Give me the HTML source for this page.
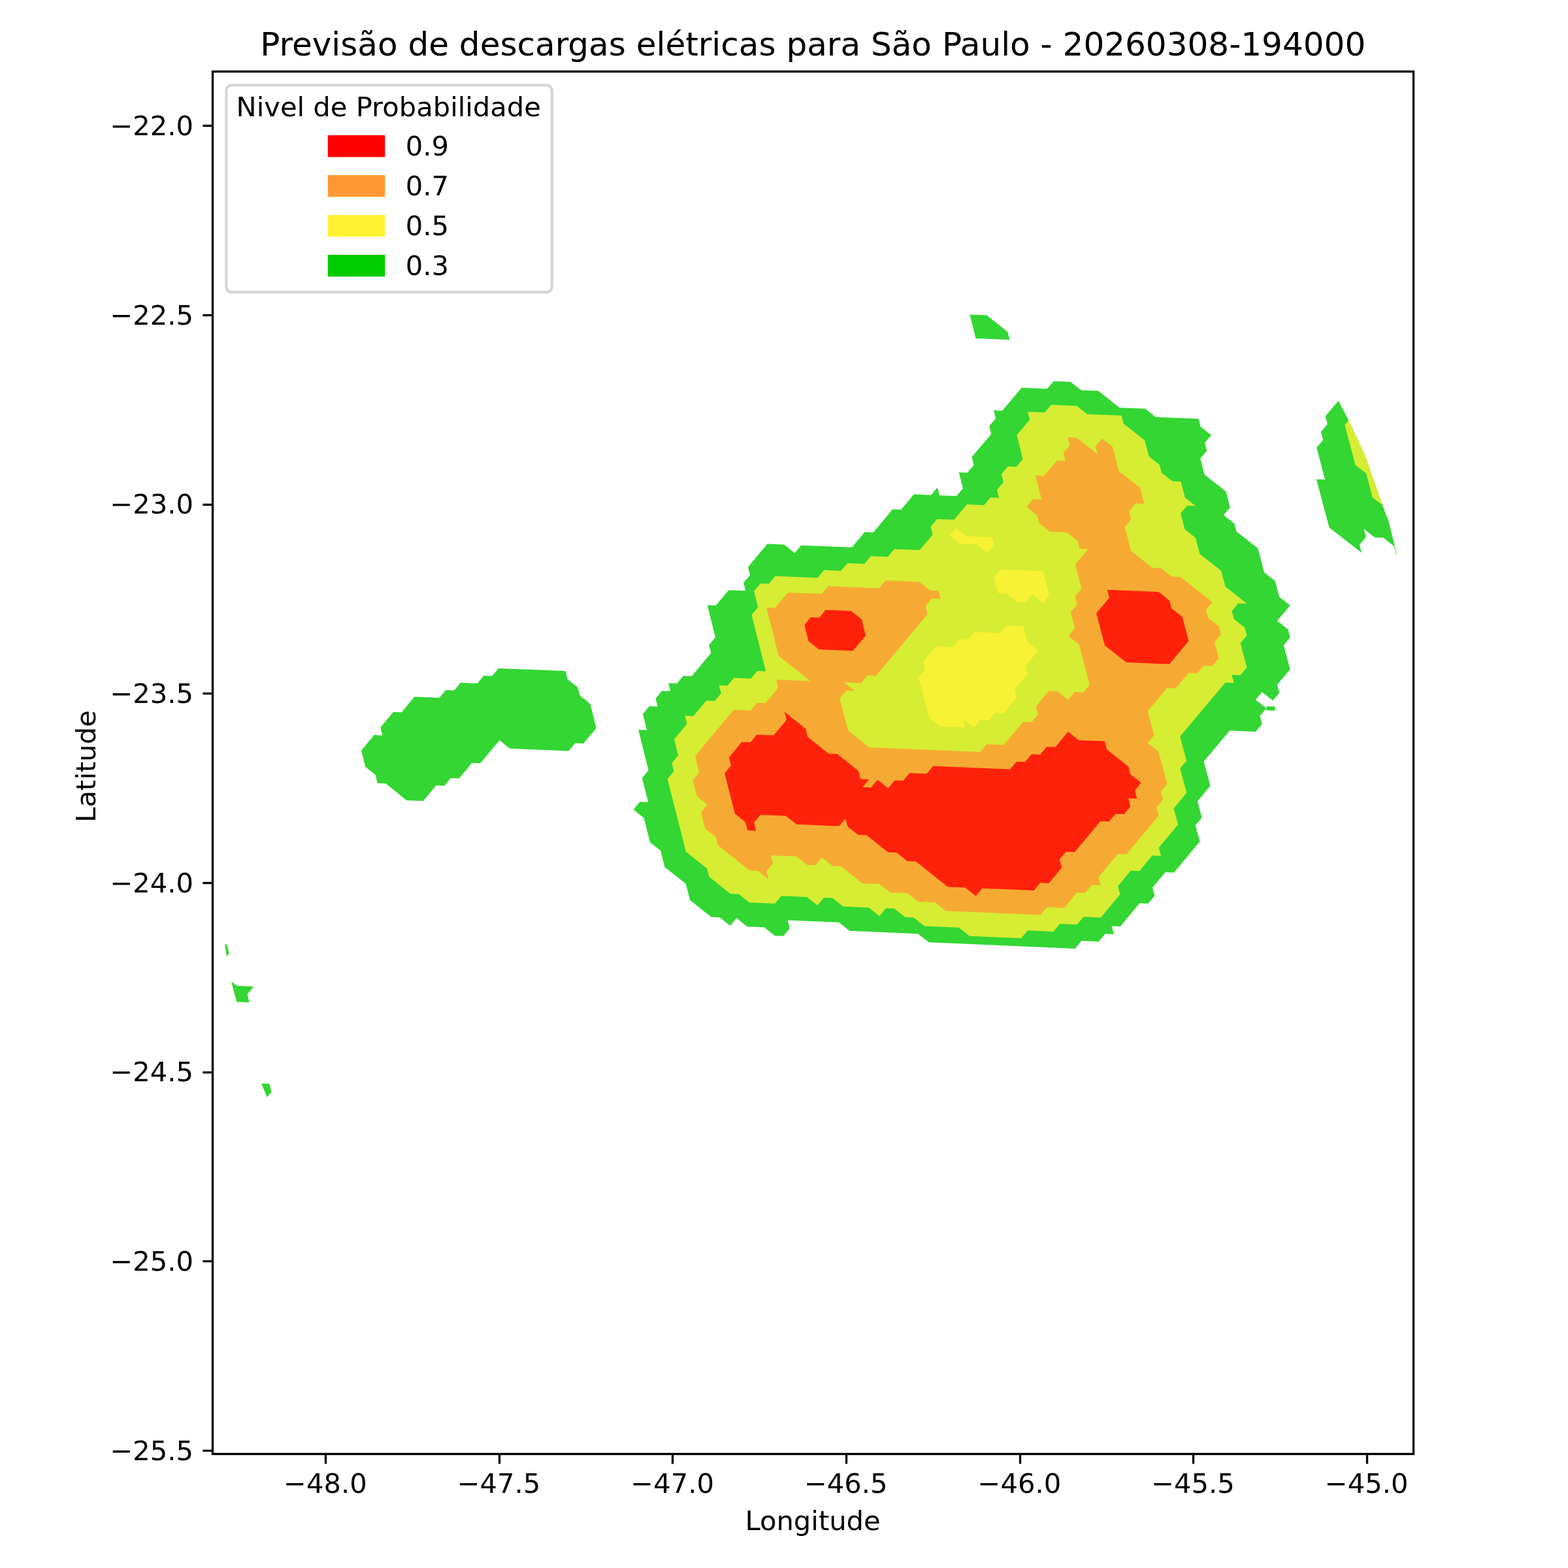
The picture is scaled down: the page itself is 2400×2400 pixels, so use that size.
<!DOCTYPE html>
<html lang="pt-BR"><head><meta charset="utf-8"><title>Previsão de descargas elétricas para São Paulo</title>
<style>html,body{margin:0;padding:0;background:#fff}body{width:2400px;height:2400px;overflow:hidden}svg{display:block}text{font-family:"DejaVu Sans","Liberation Sans",sans-serif;fill:#000}</style></head><body>
<svg width="2400" height="2400" viewBox="0 0 2400 2400">
<rect width="2400" height="2400" fill="#fff"/>
<defs><clipPath id="ax"><rect x="325.50" y="109.50" width="1838.00" height="2116.00"/></clipPath></defs>
<g clip-path="url(#ax)" fill-opacity="0.8" stroke="none">
<path d="M1144.9 867.9 L1148.0 880.2 L1138.1 891.9 L1141.2 904.2 L1115.4 903.2 L1095.7 926.7 L1082.8 926.2 L1095.0 975.4 L1085.2 987.2 L1088.3 999.5 L1058.8 1034.9 L1045.9 1034.4 L1036.1 1046.2 L1023.1 1045.7 L1026.2 1058.0 L1013.3 1057.5 L1003.5 1069.3 L1006.6 1081.6 L993.7 1081.1 L983.9 1092.9 L990.0 1117.6 L977.1 1117.1 L992.6 1178.9 L982.8 1190.7 L992.2 1227.8 L979.3 1227.3 L969.5 1239.1 L985.5 1252.0 L995.0 1289.2 L1011.1 1302.1 L1017.4 1326.9 L1049.7 1352.8 L1056.0 1377.6 L1088.4 1403.6 L1101.4 1404.1 L1117.7 1417.1 L1127.4 1405.2 L1143.7 1418.2 L1169.8 1419.3 L1186.0 1432.3 L1199.1 1432.8 L1208.9 1420.9 L1205.6 1408.5 L1284.0 1411.8 L1300.3 1424.8 L1405.1 1429.3 L1421.6 1442.3 L1645.5 1452.0 L1655.4 1440.1 L1681.8 1441.2 L1691.7 1429.3 L1704.9 1429.9 L1701.5 1417.5 L1714.7 1418.0 L1744.3 1382.4 L1757.5 1383.0 L1767.4 1371.1 L1764.0 1358.6 L1783.7 1334.9 L1797.0 1335.5 L1836.5 1288.1 L1829.7 1263.2 L1839.6 1251.4 L1832.9 1226.5 L1852.6 1202.8 L1842.6 1165.6 L1882.2 1118.3 L1921.9 1120.1 L1931.8 1108.2 L1928.5 1095.9 L1938.4 1084.0 L1921.8 1071.1 L1931.7 1059.3 L1948.3 1072.2 L1958.2 1060.4 L1954.9 1048.1 L1974.7 1024.5 L1964.8 987.4 L1974.7 975.6 L1971.4 963.2 L1954.8 950.3 L1974.7 926.7 L1958.2 913.8 L1951.6 889.2 L1935.1 876.3 L1925.3 839.3 L1892.5 813.6 L1889.2 801.3 L1872.8 788.4 L1882.8 776.7 L1876.3 752.1 L1843.6 726.4 L1837.2 701.8 L1847.2 690.1 L1844.0 677.8 L1854.0 666.1 L1837.7 653.3 L1834.5 641.0 L1768.9 638.3 L1752.7 625.5 L1713.5 623.9 L1681.1 598.3 L1655.0 597.2 L1638.8 584.5 L1612.8 583.4 L1602.8 595.1 L1563.8 593.5 L1534.0 628.7 L1521.0 628.1 L1524.1 640.4 L1514.2 652.1 L1517.2 664.4 L1487.5 699.5 L1490.6 711.8 L1480.7 723.5 L1467.7 723.0 L1473.9 747.6 L1464.0 759.3 L1438.0 758.2 L1434.9 746.0 L1425.0 757.7 L1399.0 756.6 L1379.2 780.1 L1366.3 779.6 L1336.6 814.9 L1323.6 814.3 L1303.9 837.8 L1226.2 834.7 L1216.3 846.4 L1200.3 833.6 L1174.5 832.6Z" fill="#00cc00"/>
<path d="M553.1 1148.8 L572.6 1125.1 L585.4 1125.7 L582.4 1113.3 L602.0 1089.7 L614.7 1090.2 L634.3 1066.6 L672.6 1068.1 L682.4 1056.3 L695.2 1056.8 L705.0 1045.0 L730.6 1046.0 L740.4 1034.2 L753.2 1034.8 L763.0 1023.0 L865.6 1027.1 L868.6 1039.4 L884.5 1052.3 L887.6 1064.6 L903.5 1077.4 L912.7 1114.4 L893.1 1138.1 L880.2 1137.6 L870.4 1149.4 L780.4 1145.7 L764.6 1132.9 L735.2 1168.3 L722.4 1167.8 L702.8 1191.5 L690.0 1191.0 L680.2 1202.8 L667.4 1202.3 L647.8 1226.0 L622.2 1224.9 L590.6 1199.2 L577.8 1198.7 L574.8 1186.3 L559.1 1173.5Z" fill="#00cc00"/>
<path d="M2048.7 613.5 L2028.7 637.0 L2031.9 649.2 L2021.9 661.0 L2025.2 673.2 L2015.2 685.0 L2028.1 734.1 L2014.9 733.6 L2034.5 807.4 L2084.1 846.0 L2080.8 833.7 L2090.8 822.0 L2087.5 809.6 L2104.0 822.5 L2117.3 823.1 L2133.9 836.0 L2137.2 848.3 L2138.4 849.2 L2134.8 835.8 L2125.0 796.0 L2120.7 785.9 L2116.3 773.2 L2097.4 720.0 L2088.2 694.2 L2064.3 643.6Z" fill="#00cc00"/>
<path d="M1484.4 481.4 L1510.3 482.4 L1542.3 507.9 L1545.4 520.1 L1493.5 518.0Z" fill="#00cc00"/>
<path d="M344.1 1444.6 L347.6 1446.8 L350.6 1459.2 L347.0 1463.7Z" fill="#00cc00"/>
<path d="M354.1 1502.2 L362.8 1508.8 L388.3 1509.9 L378.6 1521.8 L381.6 1534.2 L362.2 1533.6Z" fill="#00cc00"/>
<path d="M400.1 1658.6 L412.5 1658.7 L415.6 1671.2 L408.9 1679.4Z" fill="#00cc00"/>
<path d="M1938.3 1087.2 L1951.5 1087.7 L1951.8 1081.5 L1938.5 1080.9Z" fill="#00cc00"/>
<path d="M1323.0 863.0 L1297.1 861.9 L1287.2 873.7 L1261.3 872.6 L1251.4 884.4 L1186.7 881.7 L1176.9 893.5 L1164.0 893.0 L1154.1 904.8 L1160.3 929.4 L1150.4 941.1 L1172.1 1027.4 L1159.1 1026.9 L1149.3 1038.7 L1123.4 1037.6 L1113.6 1049.4 L1100.6 1048.9 L1103.8 1061.2 L1093.9 1073.0 L1081.0 1072.5 L1061.3 1096.1 L1048.4 1095.6 L1051.5 1107.9 L1031.9 1131.5 L1038.1 1156.3 L1028.3 1168.1 L1031.4 1180.5 L1021.6 1192.3 L1049.9 1303.7 L1082.2 1329.6 L1085.4 1342.0 L1117.8 1367.9 L1130.8 1368.5 L1147.0 1381.4 L1186.1 1383.1 L1195.9 1371.2 L1235.0 1372.9 L1251.3 1385.8 L1261.1 1374.0 L1274.2 1374.5 L1290.5 1387.5 L1329.8 1389.2 L1346.1 1402.2 L1355.9 1390.3 L1369.0 1390.8 L1385.4 1403.8 L1398.5 1404.4 L1415.0 1417.4 L1467.5 1419.7 L1484.0 1432.7 L1563.0 1436.1 L1572.8 1424.2 L1612.4 1425.9 L1622.2 1414.0 L1648.6 1415.2 L1658.5 1403.3 L1684.9 1404.4 L1714.4 1368.8 L1711.1 1356.4 L1730.8 1332.6 L1744.0 1333.2 L1763.7 1309.5 L1777.0 1310.0 L1773.6 1297.6 L1803.2 1262.1 L1796.5 1237.2 L1816.3 1213.5 L1806.2 1176.3 L1816.1 1164.5 L1806.2 1127.3 L1875.5 1044.7 L1888.7 1045.2 L1885.4 1032.9 L1898.6 1033.4 L1908.5 1021.6 L1898.6 984.5 L1908.5 972.8 L1905.2 960.4 L1888.7 947.5 L1885.5 935.2 L1895.4 923.4 L1908.6 923.9 L1875.7 898.1 L1869.1 873.5 L1836.3 847.7 L1829.9 823.1 L1813.5 810.3 L1807.1 785.7 L1817.0 773.9 L1830.1 774.5 L1813.8 761.6 L1807.4 737.0 L1794.3 736.5 L1778.0 723.7 L1774.8 711.4 L1758.5 698.6 L1752.2 674.0 L1719.7 648.4 L1716.6 636.1 L1664.3 634.0 L1648.1 621.2 L1609.0 619.6 L1599.1 631.3 L1573.0 630.3 L1576.1 642.5 L1556.3 666.0 L1565.6 702.7 L1555.7 714.5 L1542.7 713.9 L1532.8 725.7 L1535.9 738.0 L1526.0 749.7 L1529.1 762.0 L1516.1 761.4 L1506.1 773.2 L1480.1 772.1 L1460.3 795.6 L1434.3 794.5 L1424.4 806.3 L1427.5 818.6 L1407.7 842.1 L1368.8 840.5 L1358.9 852.3 L1332.9 851.2Z" fill="#fff233"/>
<path d="M1463.4 807.9 L1479.6 820.7 L1518.7 822.3 L1521.8 834.6 L1511.9 846.4 L1495.7 833.6 L1469.7 832.5 L1453.5 819.7Z" fill="#fff233"/>
<path d="M1531.3 871.5 L1596.6 874.3 L1606.2 911.2 L1596.3 923.0 L1580.0 910.1 L1570.1 921.9 L1557.0 921.3 L1540.8 908.5 L1527.7 907.9 L1521.4 883.3Z" fill="#fff233"/>
<path d="M1540.4 957.2 L1566.6 958.3 L1573.0 983.0 L1589.3 995.9 L1569.5 1019.5 L1572.8 1031.8 L1553.0 1055.4 L1556.2 1067.8 L1536.5 1091.4 L1523.4 1090.9 L1513.5 1102.7 L1500.4 1102.1 L1490.6 1113.9 L1474.3 1101.0 L1477.5 1113.4 L1438.3 1111.7 L1422.0 1098.8 L1406.0 1037.1 L1415.9 1025.3 L1412.7 1012.9 L1432.5 989.3 L1458.5 990.4 L1468.4 978.6 L1481.5 979.2 L1491.3 967.4 L1530.5 969.0Z" fill="#fff233"/>
<path d="M2064.3 643.6 L2058.3 650.3 L2074.5 711.8 L2091.0 724.6 L2100.8 761.5 L2116.3 773.2 L2097.4 720.0 L2088.2 694.2Z" fill="#fff233"/>
<path d="M1439.6 916.5 L1436.4 904.2 L1423.4 903.6 L1407.2 890.8 L1355.2 888.6 L1345.4 900.4 L1267.5 897.2 L1257.6 909.0 L1205.8 906.9 L1186.1 930.4 L1173.2 929.9 L1191.8 1003.8 L1240.0 1042.4 L1188.2 1040.2 L1191.3 1052.6 L1171.6 1076.2 L1158.7 1075.7 L1148.8 1087.5 L1122.9 1086.4 L1064.0 1157.3 L1070.2 1182.1 L1060.4 1193.9 L1066.7 1218.6 L1082.8 1231.5 L1073.0 1243.4 L1079.3 1268.2 L1095.5 1281.1 L1098.7 1293.5 L1147.2 1332.3 L1160.2 1332.9 L1176.4 1345.8 L1173.2 1333.4 L1183.0 1321.6 L1179.8 1309.2 L1218.9 1310.8 L1235.1 1323.8 L1248.2 1324.3 L1258.0 1312.4 L1274.3 1325.4 L1287.3 1326.0 L1320.0 1351.9 L1346.1 1353.0 L1362.5 1366.0 L1388.7 1367.1 L1405.1 1380.1 L1431.3 1381.2 L1447.7 1394.2 L1592.5 1400.4 L1602.3 1388.5 L1628.7 1389.7 L1648.4 1365.9 L1661.6 1366.5 L1671.4 1354.6 L1684.6 1355.2 L1681.3 1342.8 L1710.9 1307.2 L1724.1 1307.8 L1773.4 1248.5 L1770.1 1236.1 L1779.9 1224.2 L1776.6 1211.8 L1786.5 1200.0 L1773.2 1150.4 L1756.7 1137.5 L1766.5 1125.6 L1756.6 1088.5 L1786.3 1053.1 L1799.5 1053.6 L1819.3 1030.0 L1832.5 1030.6 L1842.4 1018.8 L1855.6 1019.4 L1865.6 1007.6 L1859.0 982.9 L1868.9 971.1 L1865.6 958.7 L1849.1 945.8 L1845.9 933.5 L1855.8 921.7 L1806.5 883.0 L1793.4 882.5 L1777.0 869.6 L1763.8 869.1 L1731.2 843.3 L1721.6 806.4 L1731.5 794.7 L1728.3 782.4 L1738.2 770.6 L1751.3 771.2 L1745.0 746.6 L1712.4 720.9 L1703.0 684.1 L1686.8 671.3 L1676.8 683.0 L1680.0 695.3 L1647.6 669.7 L1634.5 669.2 L1637.6 681.4 L1627.7 693.2 L1630.8 705.4 L1617.8 704.9 L1597.9 728.4 L1584.9 727.8 L1594.3 764.7 L1581.2 764.1 L1571.3 775.9 L1587.5 788.7 L1590.7 801.0 L1606.9 813.8 L1633.1 814.9 L1649.3 827.8 L1652.5 840.1 L1665.6 840.6 L1645.8 864.1 L1655.4 901.1 L1645.5 912.8 L1648.7 925.2 L1638.8 937.0 L1645.2 961.6 L1635.3 973.4 L1651.6 986.3 L1667.9 1048.1 L1658.0 1059.9 L1644.8 1059.3 L1634.9 1071.1 L1618.6 1058.2 L1605.4 1057.6 L1585.7 1081.3 L1588.9 1093.6 L1579.1 1105.4 L1565.9 1104.9 L1536.3 1140.3 L1510.1 1139.2 L1500.3 1151.1 L1330.4 1143.9 L1298.0 1118.1 L1285.3 1068.7 L1295.2 1056.9 L1308.2 1057.4 L1292.0 1044.5 L1318.0 1045.6 L1327.9 1033.8 L1340.9 1034.4 L1419.8 940.0 L1416.7 927.7 L1426.5 915.9Z" fill="#ff9933"/>
<path d="M1263.8 933.6 L1302.8 935.2 L1318.9 948.0 L1325.1 972.7 L1305.4 996.3 L1253.5 994.1 L1237.4 981.3 L1231.2 956.6 L1241.0 944.8 L1254.0 945.4Z" fill="#ff0000"/>
<path d="M1694.7 902.7 L1697.9 915.0 L1678.1 938.6 L1691.0 988.0 L1723.8 1013.8 L1789.7 1016.6 L1819.4 981.2 L1809.6 944.1 L1793.2 931.3 L1789.9 918.9 L1773.5 906.0Z" fill="#ff0000"/>
<path d="M1200.7 1089.6 L1203.8 1102.0 L1184.2 1125.6 L1158.2 1124.5 L1148.4 1136.4 L1135.4 1135.8 L1115.8 1159.5 L1118.9 1171.8 L1109.1 1183.7 L1124.9 1245.5 L1141.1 1258.5 L1144.2 1270.9 L1157.2 1271.4 L1154.1 1259.0 L1163.9 1247.2 L1202.9 1248.8 L1219.1 1261.7 L1284.2 1264.5 L1294.1 1252.6 L1297.3 1265.0 L1313.6 1278.0 L1326.6 1278.5 L1359.2 1304.4 L1372.3 1305.0 L1388.7 1318.0 L1401.8 1318.5 L1450.9 1357.5 L1477.2 1358.6 L1493.7 1371.6 L1503.5 1359.7 L1582.4 1363.1 L1592.3 1351.2 L1605.5 1351.8 L1625.2 1328.1 L1621.8 1315.6 L1631.7 1303.8 L1644.9 1304.3 L1684.3 1256.9 L1697.5 1257.5 L1707.4 1245.7 L1720.6 1246.2 L1730.4 1234.4 L1727.1 1222.0 L1740.3 1222.5 L1737.0 1210.1 L1746.8 1198.3 L1730.3 1185.3 L1727.0 1172.9 L1694.0 1147.0 L1690.8 1134.6 L1651.3 1133.0 L1634.8 1120.0 L1615.1 1143.7 L1602.0 1143.1 L1592.1 1154.9 L1579.0 1154.4 L1569.1 1166.2 L1556.0 1165.7 L1546.1 1177.5 L1428.2 1172.5 L1418.4 1184.3 L1392.2 1183.2 L1382.4 1195.1 L1369.3 1194.5 L1359.5 1206.4 L1343.2 1193.4 L1333.4 1205.3 L1320.3 1204.7 L1330.2 1192.9 L1317.1 1192.3 L1313.9 1179.9 L1281.5 1154.1 L1268.5 1153.6 L1236.1 1127.8 L1233.0 1115.4Z" fill="#ff0000"/>
</g>
<g stroke="#000" stroke-width="3.333" fill="none">
<line x1="498.50" y1="2225.50" x2="498.50" y2="2240.58"/>
<line x1="764.50" y1="2225.50" x2="764.50" y2="2240.58"/>
<line x1="1029.50" y1="2225.50" x2="1029.50" y2="2240.58"/>
<line x1="1295.50" y1="2225.50" x2="1295.50" y2="2240.58"/>
<line x1="1561.50" y1="2225.50" x2="1561.50" y2="2240.58"/>
<line x1="1826.50" y1="2225.50" x2="1826.50" y2="2240.58"/>
<line x1="2092.50" y1="2225.50" x2="2092.50" y2="2240.58"/>
<line x1="325.50" y1="192.50" x2="310.42" y2="192.50"/>
<line x1="325.50" y1="482.50" x2="310.42" y2="482.50"/>
<line x1="325.50" y1="772.50" x2="310.42" y2="772.50"/>
<line x1="325.50" y1="1061.50" x2="310.42" y2="1061.50"/>
<line x1="325.50" y1="1351.50" x2="310.42" y2="1351.50"/>
<line x1="325.50" y1="1641.50" x2="310.42" y2="1641.50"/>
<line x1="325.50" y1="1930.50" x2="310.42" y2="1930.50"/>
<line x1="325.50" y1="2220.50" x2="310.42" y2="2220.50"/>
<rect x="325.50" y="109.50" width="1838.00" height="2116.00" stroke-linejoin="miter"/>
</g>
<text x="497.84" y="2285.38" font-size="41.667" text-anchor="middle">−48.0</text>
<text x="763.47" y="2285.38" font-size="41.667" text-anchor="middle">−47.5</text>
<text x="1029.10" y="2285.38" font-size="41.667" text-anchor="middle">−47.0</text>
<text x="1294.73" y="2285.38" font-size="41.667" text-anchor="middle">−46.5</text>
<text x="1560.36" y="2285.38" font-size="41.667" text-anchor="middle">−46.0</text>
<text x="1825.99" y="2285.38" font-size="41.667" text-anchor="middle">−45.5</text>
<text x="2091.62" y="2285.38" font-size="41.667" text-anchor="middle">−45.0</text>
<text x="296.08" y="207.18" font-size="41.667" text-anchor="end">−22.0</text>
<text x="296.08" y="496.83" font-size="41.667" text-anchor="end">−22.5</text>
<text x="296.08" y="786.48" font-size="41.667" text-anchor="end">−23.0</text>
<text x="296.08" y="1076.13" font-size="41.667" text-anchor="end">−23.5</text>
<text x="296.08" y="1365.78" font-size="41.667" text-anchor="end">−24.0</text>
<text x="296.08" y="1655.43" font-size="41.667" text-anchor="end">−24.5</text>
<text x="296.08" y="1945.08" font-size="41.667" text-anchor="end">−25.0</text>
<text x="296.08" y="2234.73" font-size="41.667" text-anchor="end">−25.5</text>
<text x="1244.10" y="2342.32" font-size="41.667" text-anchor="middle">Longitude</text>
<text x="145.61" y="1172.90" font-size="41.667" text-anchor="middle" transform="rotate(-90 145.61 1172.90)">Latitude</text>
<text x="1244.20" y="84.50" font-size="50.040" text-anchor="middle">Previsão de descargas elétricas para São Paulo - 20260308-194000</text>
<rect x="346.33" y="130.33" width="498.50" height="316.80" rx="8.33" ry="8.33" fill="#fff" stroke="#ccc" stroke-width="4.167" opacity="0.8"/>
<text x="361.50" y="178.36" font-size="41.667">Nivel de Probabilidade</text>
<rect x="503.89" y="209.13" width="83.33" height="29.17" fill="#ff0000" stroke="#ff0000" stroke-width="4.167"/>
<text x="620.76" y="237.50" font-size="41.667">0.9</text>
<rect x="503.89" y="270.13" width="83.33" height="29.17" fill="#ff9933" stroke="#ff9933" stroke-width="4.167"/>
<text x="620.76" y="298.50" font-size="41.667">0.7</text>
<rect x="503.89" y="331.13" width="83.33" height="29.17" fill="#fff233" stroke="#fff233" stroke-width="4.167"/>
<text x="620.76" y="359.50" font-size="41.667">0.5</text>
<rect x="503.89" y="392.13" width="83.33" height="29.17" fill="#00cc00" stroke="#00cc00" stroke-width="4.167"/>
<text x="620.76" y="420.50" font-size="41.667">0.3</text>
</svg></body></html>
